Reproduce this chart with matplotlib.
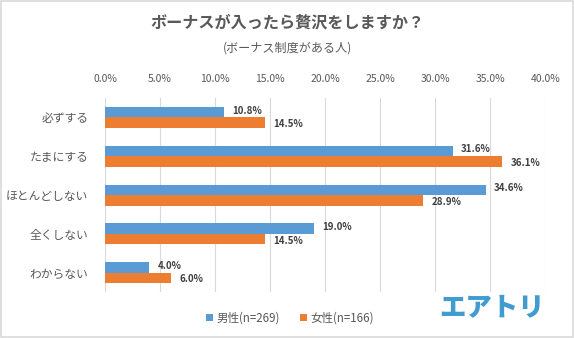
import matplotlib.pyplot as plt
import numpy as np
from matplotlib.patches import Rectangle

plt.rcParams['font.family'] = ['Noto Sans CJK JP', 'DejaVu Sans']

categories = ['必ずする', 'たまにする', 'ほとんどしない', '全くしない', 'わからない']
male = [10.8, 31.6, 34.6, 19.0, 4.0]
female = [14.5, 36.1, 28.9, 14.5, 6.0]
xticks = [0, 5, 10, 15, 20, 25, 30, 35, 40]

blue = '#5B9BD5'
orange = '#ED7D31'
gray = '#595959'

fig = plt.figure(figsize=(5.74, 3.38), dpi=100)
ax = fig.add_axes([0.183, 0.136, 0.767, 0.574])

y = np.arange(len(categories))
h = 0.27
ax.barh(y - h / 2, male, height=h, color=blue, label='男性(n=269)', zorder=3)
ax.barh(y + h / 2, female, height=h, color=orange, label='女性(n=166)', zorder=3)

for i in range(len(categories)):
    ax.text(male[i] + 0.75, y[i] - h / 2 - 0.04, f'{male[i]:.1f}%', va='center', ha='left',
            fontsize=7, fontweight='bold', color='#404040')
    ax.text(female[i] + 0.75, y[i] + h / 2 + 0.04, f'{female[i]:.1f}%', va='center', ha='left',
            fontsize=7, fontweight='bold', color='#404040')

ax.set_xlim(0, 40)
ax.set_ylim(len(categories) - 0.5, -0.5)
ax.set_xticks(xticks)
ax.set_xticklabels([f'{v:.1f}%' for v in xticks], fontsize=7.5, color=gray)
ax.xaxis.tick_top()
ax.tick_params(axis='x', length=0, pad=10)
ax.set_yticks(y)
ax.set_yticklabels(categories, fontsize=8.5, color=gray)
ax.tick_params(axis='y', length=0, pad=12)
ax.grid(axis='x', color='#D9D9D9', linewidth=0.8, zorder=0)
for s in ax.spines.values():
    s.set_visible(False)

fig.text(0.5, 0.935, 'ボーナスが入ったら贅沢をしますか？', ha='center', va='center',
         fontsize=11.6, fontweight='bold', color=gray)
fig.text(0.5, 0.858, '(ボーナス制度がある人)', ha='center', va='center',
         fontsize=8.7, color=gray)

fig.legend(loc='center', bbox_to_anchor=(0.505, 0.059), ncol=2, frameon=False,
           fontsize=8.3, handlelength=0.6, handleheight=0.6, columnspacing=1.8,
           handletextpad=0.3, labelcolor=gray)

fig.text(0.857, 0.092, 'エアトリ', ha='center', va='center', fontsize=19,
         fontweight='heavy', color='#3F9BD0')

fig.patches.append(Rectangle((0.002, 0.003), 0.996, 0.994, transform=fig.transFigure,
                             fill=False, edgecolor='#D9D9D9', linewidth=1.2))

fig.savefig('out.png', dpi=100)
